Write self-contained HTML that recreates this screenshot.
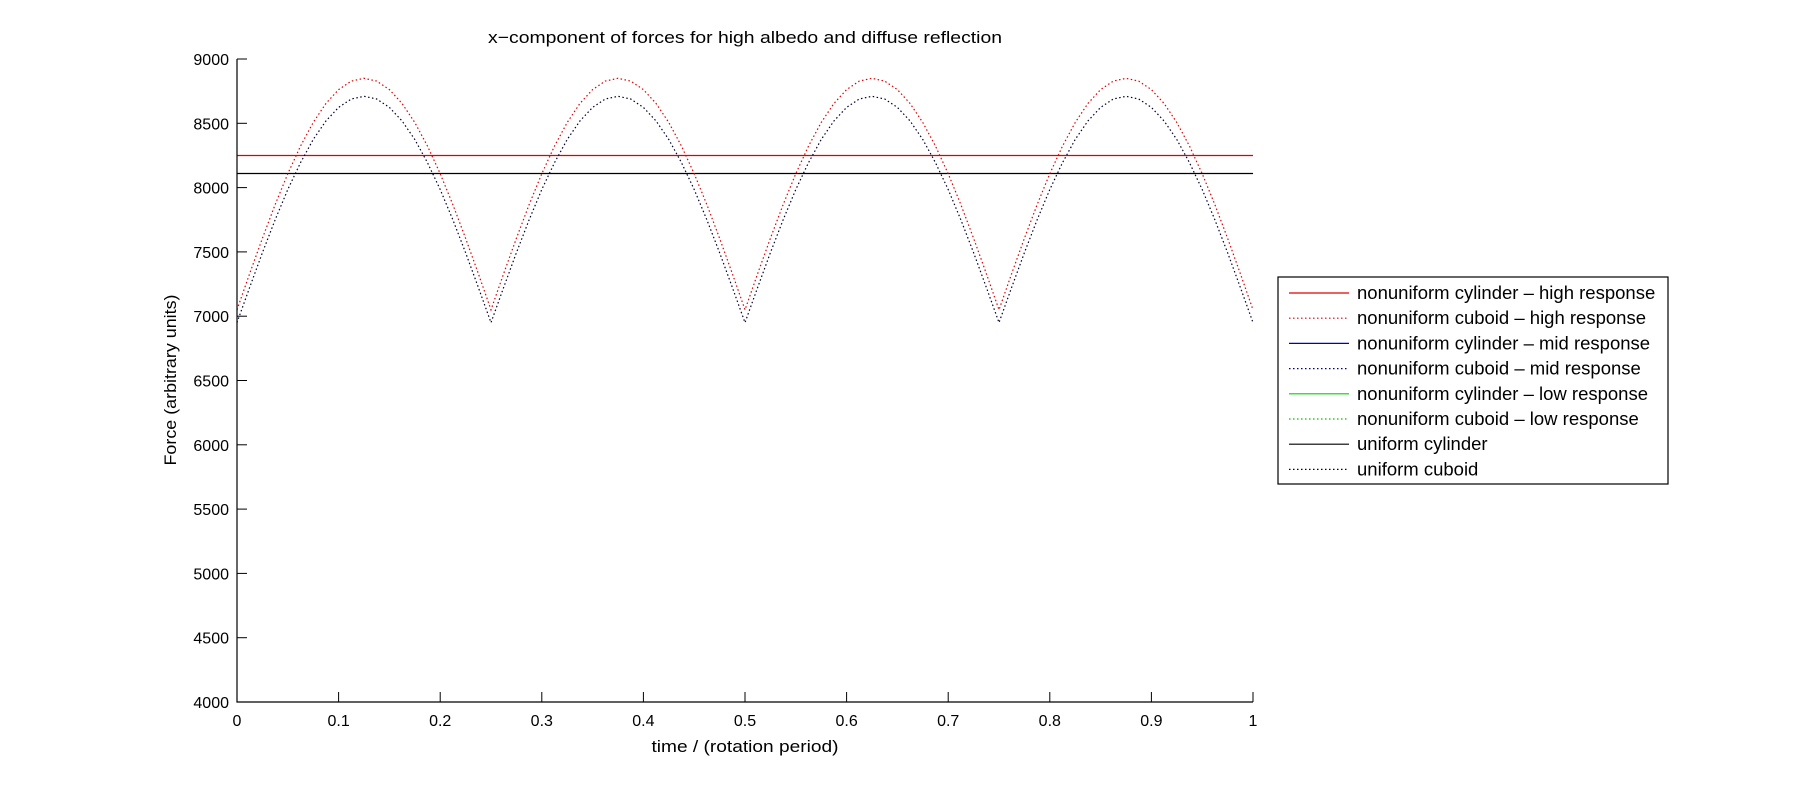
<!DOCTYPE html>
<html><head><meta charset="utf-8"><style>
html,body{margin:0;padding:0;background:#fff;}
svg{display:block;font-family:"Liberation Sans",Arial,sans-serif;}
</style></head><body>
<svg id="chart" width="1815" height="788" viewBox="0 0 1815 788">
<rect width="1815" height="788" fill="#fff"/>
<text x="745" y="43" font-size="17" text-anchor="middle" textLength="514" lengthAdjust="spacingAndGlyphs">x−component of forces for high albedo and diffuse  reflection</text>
<text x="745" y="752" font-size="17" text-anchor="middle" textLength="187" lengthAdjust="spacingAndGlyphs">time / (rotation period)</text>
<text transform="translate(176,380) rotate(-90)" font-size="17" text-anchor="middle" textLength="171" lengthAdjust="spacingAndGlyphs">Force (arbitrary units)</text>
<g id="series"></g>
<g id="axes"></g>
<g id="legend"></g>
</svg>
<script>
const xTicks = [0,0.1,0.2,0.3,0.4,0.5,0.6,0.7,0.8,0.9,1];
const xTickLabels = ["0","0.1","0.2","0.3","0.4","0.5","0.6","0.7","0.8","0.9","1"];
const yTicks = [4000,4500,5000,5500,6000,6500,7000,7500,8000,8500,9000];
const yTickLabels = ["4000","4500","5000","5500","6000","6500","7000","7500","8000","8500","9000"];
const times = [0,0.0125,0.025,0.0375,0.05,0.0625,0.075,0.0875,0.1,0.1125,0.125,0.1375,0.15,0.1625,0.175,0.1875,0.2,0.2125,0.225,0.2375,
0.25,0.2625,0.275,0.2875,0.3,0.3125,0.325,0.3375,0.35,0.3625,0.375,0.3875,0.4,0.4125,0.425,0.4375,0.45,0.4625,0.475,0.4875,
0.5,0.5125,0.525,0.5375,0.55,0.5625,0.575,0.5875,0.6,0.6125,0.625,0.6375,0.65,0.6625,0.675,0.6875,0.7,0.7125,0.725,0.7375,
0.75,0.7625,0.775,0.7875,0.8,0.8125,0.825,0.8375,0.85,0.8625,0.875,0.8875,0.9,0.9125,0.925,0.9375,0.95,0.9625,0.975,0.9875,1];
const cuboidHigh = [7050,7332,7606,7867,8108,8323,8506,8654,8762,8828,8850,8828,8762,8654,8506,8323,8108,7867,7606,7332,
7050,7332,7606,7867,8108,8323,8506,8654,8762,8828,8850,8828,8762,8654,8506,8323,8108,7867,7606,7332,
7050,7332,7606,7867,8108,8323,8506,8654,8762,8828,8850,8828,8762,8654,8506,8323,8108,7867,7606,7332,
7050,7332,7606,7867,8108,8323,8506,8654,8762,8828,8850,8828,8762,8654,8506,8323,8108,7867,7606,7332,7050];
const cuboidUniform = [6950,7225,7494,7749,7985,8194,8374,8518,8624,8689,8710,8689,8624,8518,8374,8194,7985,7749,7494,7225,
6950,7225,7494,7749,7985,8194,8374,8518,8624,8689,8710,8689,8624,8518,8374,8194,7985,7749,7494,7225,
6950,7225,7494,7749,7985,8194,8374,8518,8624,8689,8710,8689,8624,8518,8374,8194,7985,7749,7494,7225,
6950,7225,7494,7749,7985,8194,8374,8518,8624,8689,8710,8689,8624,8518,8374,8194,7985,7749,7494,7225,6950];
const cylinderHigh = [8250,8250];
const cylinderUniform = [8110,8110];
const cylinderTimes = [0,1];
const legendLabels = ["nonuniform cylinder – high response","nonuniform cuboid – high response","nonuniform cylinder – mid response","nonuniform cuboid – mid response","nonuniform cylinder – low response","nonuniform cuboid – low response","uniform cylinder","uniform cuboid"];
const legendColors = ["#e00000","#e00000","#0000c0","#000080","#00d000","#00c000","#000000","#000040"];
const legendDotted = [false,true,false,true,false,true,false,true];

const L=237,R=1253,T=59,B=702;
const NS="http://www.w3.org/2000/svg";
function xs(v){return L+(v-0)/(1-0)*(R-L);}
function ys(v){return B-(v-4000)/(9000-4000)*(B-T);}
function mk(tag,attrs,parent){const e=document.createElementNS(NS,tag);for(const k in attrs)e.setAttribute(k,attrs[k]);parent.appendChild(e);return e;}
const axes=document.getElementById('axes'),series=document.getElementById('series'),legend=document.getElementById('legend');

function poly(xsArr,ysArr,color,dotted,name){
  const pts=xsArr.map((t,i)=>xs(t).toFixed(1)+","+ys(ysArr[i]).toFixed(1)).join(" ");
  const p=mk('polyline',{points:pts,fill:'none',stroke:color,'stroke-width':1.2},series);
  if(dotted)p.setAttribute('stroke-dasharray','1.5 2.5');
  
  
}
poly(cylinderTimes,cylinderHigh,'#e00000',false,'line-nonuniform-cylinder-high');
poly(cylinderTimes,cylinderUniform,'#000000',false,'line-uniform-cylinder');
poly(times,cuboidHigh,'#e00000',true,'line-nonuniform-cuboid-high');
poly(times,cuboidUniform,'#000030',true,'line-uniform-cuboid');

const ax=mk('path',{d:`M${L},${T}V${B}H${R}`,fill:'none',stroke:'#000','stroke-width':1.2},axes);


yTicks.forEach((v,i)=>{
  const y=ys(v);
  mk('line',{x1:L,x2:L+10,y1:y,y2:y,stroke:'#000'},axes);
  const t=mk('text',{x:L-8,y:y+6,'font-size':16,'text-anchor':'end'},axes);
  t.textContent=yTickLabels[i];
  
  
});
xTicks.forEach((v,i)=>{
  const x=xs(v);
  mk('line',{x1:x,x2:x,y1:B,y2:B-10,stroke:'#000'},axes);
  const t=mk('text',{x:x,y:B+24,'font-size':16,'text-anchor':'middle'},axes);
  t.textContent=xTickLabels[i];
  
  
});

const box=mk('rect',{x:1278,y:277,width:390,height:207,fill:'#fff',stroke:'#000','stroke-width':1.2},legend);


legendLabels.forEach((lab,i)=>{
  const y=293+i*25.2;
  const ln=mk('line',{x1:1289,x2:1349,y1:y,y2:y,stroke:legendColors[i],'stroke-width':1.2},legend);
  if(legendDotted[i])ln.setAttribute('stroke-dasharray','1.5 2.5');
  
  
  const t=mk('text',{x:1357,y:y+6,'font-size':18.5},legend);
  t.textContent=lab;
  
  
});
</script>
</body></html>
